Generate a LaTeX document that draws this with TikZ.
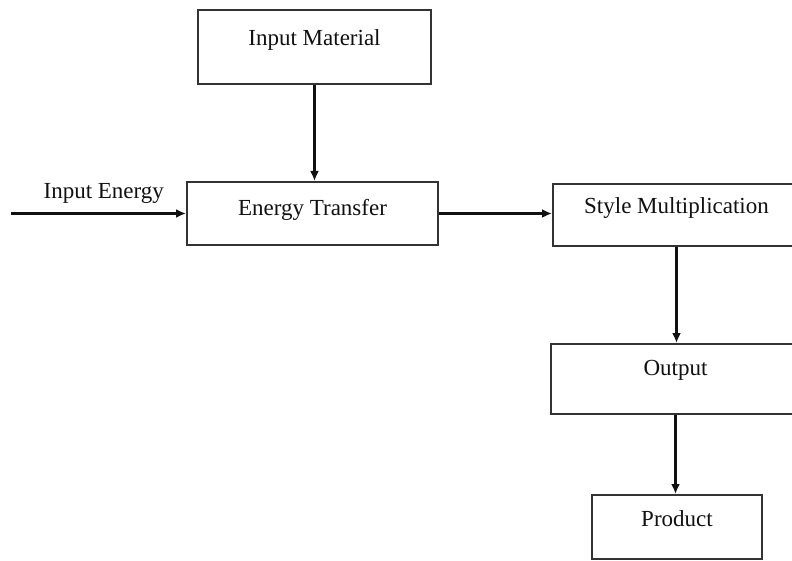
\documentclass[tikz,border=0pt]{standalone}
\usepackage{fontspec}
\setmainfont{Liberation Serif}
\usetikzlibrary{arrows.meta,positioning}
\definecolor{flowInk}{HTML}{111111}
\definecolor{flowEdge}{HTML}{333333}
\tikzset{
  every picture/.style={font=\fontsize{11.5}{13}\selectfont, text=flowInk},
  flow box/.style={draw=flowEdge, line width=1pt, fill=white, align=center,
    inner sep=0pt, text height=7.5pt, text depth=8.5pt},
  flow arrow/.style={-{Latex[length=5pt,width=4.5pt]},
    draw=flowInk, line width=1.2pt}
}
\begin{document}
\begin{tikzpicture}[x=0.5pt,y=-0.5pt]
  \useasboundingbox (0,0) rectangle (792,561);
  \node[flow box, minimum width=116.5pt, minimum height=37pt] (material) at (314.5,47) {Input Material};
  \node[flow box, minimum width=125.5pt, minimum height=31.5pt, text depth=5.5pt] (transfer) at (312.5,213.5) {Energy Transfer};
  \node[flow box, minimum width=123.5pt, minimum height=31pt] (style) at (676.5,215) {Style Multiplication};
  \node[flow box, minimum width=124.5pt, minimum height=35pt, text depth=11pt] (output) at (675.5,379) {Output};
  \node[flow box, minimum width=85pt, minimum height=32pt] (product) at (677,527) {Product};
  \coordinate (energy in) at (11,213.5);
  \draw[flow arrow] (energy in) -- (transfer.west) node[pos=0.53,above=1pt] {Input Energy};
  \draw[flow arrow] (material.south) -- (material.south |- transfer.north);
  \draw[flow arrow] (transfer.east) -- (transfer.east -| style.west);
  \draw[flow arrow] (style.south) -- (style.south |- output.north);
  \draw[flow arrow] (output.south) -- (output.south |- product.north);
\end{tikzpicture}
\end{document}
